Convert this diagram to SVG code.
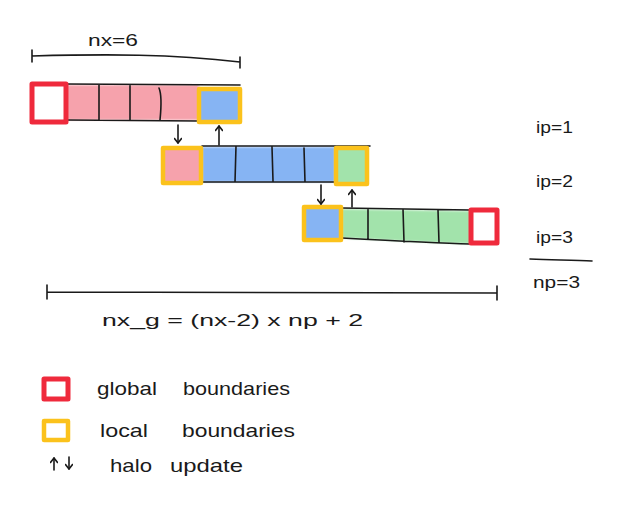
<svg xmlns="http://www.w3.org/2000/svg" width="630" height="507" viewBox="0 0 630 507">
<style>
  .ink{fill:none;stroke:#1a1a1a;stroke-width:1.6;stroke-linecap:round;stroke-linejoin:round}
  .glob{fill:#ffffff;stroke:#ef2a3c;stroke-width:5;stroke-linejoin:round}
  .loc{stroke:#fbc21c;stroke-width:4.5;stroke-linejoin:round}
  .pink{fill:#f6a2ac}
  .blue{fill:#86b4f3}
  .green{fill:#a2e3ab}
  .soft{filter:url(#blur)}
  text{font-family:"Liberation Sans","DejaVu Sans",sans-serif;fill:#1a1a1a}
  .lbl{font-size:17px}
  .leg{font-size:19px}
</style>
<defs>
  <filter id="blur" x="-10%" y="-20%" width="120%" height="140%"><feGaussianBlur stdDeviation="1.2"/></filter>
  <marker id="ah" markerWidth="8" markerHeight="8" refX="6.5" refY="4" orient="auto" markerUnits="userSpaceOnUse" viewBox="0 0 8 8">
    <path d="M2,0.5 L6.5,4 L2,7.5" fill="none" stroke="#1a1a1a" stroke-width="1.6" stroke-linecap="round" stroke-linejoin="round"/>
  </marker>
</defs>
<rect width="630" height="507" fill="#ffffff"/>

<g id="nx-bracket">
  <path class="ink" d="M32,50 L32,62 M32,56 C110,54 170,54 240,62 M240,57 L240,68"/>
  <text class="lbl" x="88" y="46" textLength="50" lengthAdjust="spacingAndGlyphs">nx=6</text>
</g>

<g id="row1">
  <rect class="pink soft" x="67" y="85" width="132" height="35"/>
  <path class="ink" d="M66,84 L240,85 M66,120 L198,121 M99,85 L99,120 M130,85 L130,120 M159,88 C162,95 161,110 160,120"/>
  <rect class="glob" x="32" y="84" width="34" height="38"/>
  <rect class="loc blue" x="199" y="89" width="41" height="33"/>
</g>

<g id="row2">
  <rect class="blue soft" x="202" y="147" width="133" height="35"/>
  <path class="ink" d="M202,146 L370,146 M202,182 L335,182 M236,146 L235,182 M272,147 L273,181 M304,148 L305,182"/>
  <rect class="loc pink" x="163" y="148" width="38" height="35"/>
  <rect class="loc green" x="336" y="148" width="31" height="36"/>
</g>

<g id="row3">
  <path class="green soft" d="M342,209 L470,211 L470,244 C440,243 400,241 342,238 Z"/>
  <path class="ink" d="M342,208 L470,210 M342,238 C400,241 440,243 470,244 M368,209 L368,239 M403,209 L404,242 M438,210 L439,243"/>
  <rect class="loc blue" x="304" y="207" width="37" height="33"/>
  <rect class="glob" x="471" y="210" width="26" height="33"/>
</g>

<g id="connectors">
  <path class="ink" d="M178,125 L178,143" marker-end="url(#ah)"/>
  <path class="ink" d="M219,145 L219,126" marker-end="url(#ah)"/>
  <path class="ink" d="M321,185 L321,204" marker-end="url(#ah)"/>
  <path class="ink" d="M352,207 L352,190" marker-end="url(#ah)"/>
</g>

<g id="proc-labels">
  <text class="lbl" x="536" y="133" textLength="37" lengthAdjust="spacingAndGlyphs">ip=1</text>
  <text class="lbl" x="536" y="187" textLength="37" lengthAdjust="spacingAndGlyphs">ip=2</text>
  <text class="lbl" x="536" y="243" textLength="37" lengthAdjust="spacingAndGlyphs">ip=3</text>
  <path class="ink" d="M530,259 C555,260 575,260 592,261"/>
  <text class="lbl" x="533" y="288" textLength="47" lengthAdjust="spacingAndGlyphs">np=3</text>
</g>

<g id="nxg-bracket">
  <path class="ink" d="M47,285 L47,299 M47,292 L497,293 M497,286 L497,300"/>
  <text class="lbl" x="102" y="326" textLength="261" lengthAdjust="spacingAndGlyphs">nx_g = (nx-2) x np + 2</text>
</g>

<g id="legend">
  <rect class="glob" x="44" y="379" width="24" height="20"/>
  <text class="leg" x="97" y="395" textLength="60" lengthAdjust="spacingAndGlyphs">global</text>
  <text class="leg" x="183" y="395" textLength="107" lengthAdjust="spacingAndGlyphs">boundaries</text>
  <rect class="loc" fill="#ffffff" x="44" y="421" width="24" height="19"/>
  <text class="leg" x="100" y="437" textLength="48" lengthAdjust="spacingAndGlyphs">local</text>
  <text class="leg" x="182" y="437" textLength="113" lengthAdjust="spacingAndGlyphs">boundaries</text>
  <path class="ink" d="M54,470 L54,458" marker-end="url(#ah)"/>
  <path class="ink" d="M69,457 L69,469" marker-end="url(#ah)"/>
  <text class="leg" x="110" y="472" textLength="42" lengthAdjust="spacingAndGlyphs">halo</text>
  <text class="leg" x="170" y="472" textLength="73" lengthAdjust="spacingAndGlyphs">update</text>
</g>
</svg>
